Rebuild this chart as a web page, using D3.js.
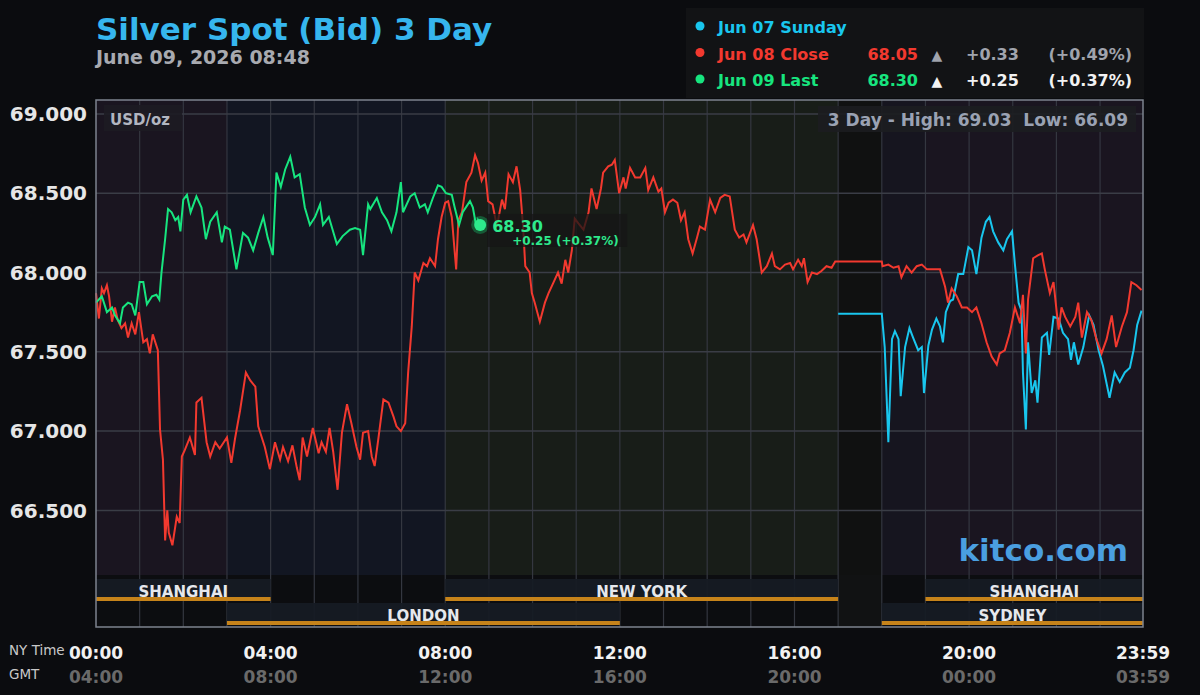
<!DOCTYPE html>
<html>
<head>
<meta charset="utf-8">
<script src="https://cdn.jsdelivr.net/npm/d3@7"></script>
<style>
  body { margin: 0; background: #0b0c0f; }
  svg { display: block; font-family: "DejaVu Sans", sans-serif; }
  text { white-space: pre; }
</style>
</head>
<body>
<div id="chart"></div>
<script>
// ---- data (minutes after NY midnight, USD/oz) ----
const yTicks = [66.5, 67, 67.5, 68, 68.5, 69];
const tickMinutes = [0, 240, 480, 720, 960, 1200, 1439];
const nyLabels = ["00:00", "04:00", "08:00", "12:00", "16:00", "20:00", "23:59"];
const gmtLabels = ["04:00", "08:00", "12:00", "16:00", "20:00", "00:00", "03:59"];

const sessionNames = ["SHANGHAI", "LONDON", "NEW YORK", "SYDNEY", "SHANGHAI"];
const sessionStart = [0, 180, 480, 1080, 1140];
const sessionEnd = [240, 720, 1020, 1439, 1439];
const sessionRow = [0, 1, 0, 1, 0];

const zoneStart = [0, 180, 480, 1020, 1080, 1140];
const zoneEnd = [180, 480, 1020, 1080, 1140, 1439];

const legendNames = ["Jun 07 Sunday", "Jun 08 Close", "Jun 09 Last"];
const legendPrice = ["", "68.05", "68.30"];
const legendChange = ["", "+0.33", "+0.25"];
const legendPct = ["", "(+0.49%)", "(+0.37%)"];

const sundaySeries = [[1020,67.74],[1080,67.74],[1084,67.53],[1089,66.93],[1094,67.58],[1098,67.63],[1103,67.58],[1106,67.22],[1112,67.53],[1118,67.65],[1123,67.59],[1130,67.51],[1135,67.53],[1138,67.24],[1144,67.54],[1149,67.64],[1155,67.71],[1160,67.66],[1164,67.56],[1168,67.75],[1174,67.82],[1178,67.83],[1185,67.99],[1192,67.99],[1199,68.16],[1204,68.14],[1210,67.99],[1217,68.22],[1223,68.32],[1228,68.35],[1233,68.26],[1240,68.19],[1247,68.14],[1252,68.21],[1259,68.26],[1263,68.05],[1268,67.81],[1272,67.76],[1274,67.37],[1278,67.01],[1281,67.56],[1286,67.24],[1291,67.32],[1294,67.18],[1300,67.59],[1307,67.62],[1310,67.48],[1316,67.72],[1323,67.71],[1329,67.62],[1336,67.58],[1340,67.45],[1344,67.56],[1350,67.42],[1357,67.53],[1365,67.73],[1371,67.67],[1378,67.51],[1384,67.41],[1393,67.21],[1400,67.37],[1407,67.31],[1414,67.37],[1421,67.40],[1426,67.51],[1431,67.67],[1437,67.76]];

const closeSeries = [[0,67.87],[4,67.71],[8,67.90],[11,67.87],[15,67.92],[18,67.85],[22,67.69],[26,67.78],[30,67.70],[35,67.65],[40,67.68],[44,67.59],[49,67.68],[54,67.61],[59,67.75],[65,67.56],[70,67.58],[74,67.49],[78,67.61],[85,67.51],[88,67.01],[92,66.82],[95,66.31],[98,66.50],[100,66.36],[105,66.28],[111,66.46],[115,66.42],[118,66.84],[122,66.88],[129,66.96],[136,66.85],[138,67.18],[145,67.21],[152,66.93],[157,66.84],[164,66.93],[170,66.89],[180,66.96],[186,66.80],[191,66.95],[198,67.13],[206,67.37],[212,67.32],[219,67.28],[223,67.03],[232,66.90],[239,66.76],[246,66.93],[253,66.82],[257,66.90],[264,66.81],[270,66.91],[276,66.77],[280,66.69],[284,66.96],[290,66.84],[298,67.02],[306,66.86],[310,66.93],[316,66.87],[321,67.02],[326,66.87],[332,66.63],[338,66.99],[345,67.17],[351,67.05],[358,66.90],[363,66.82],[367,66.99],[374,67.00],[379,66.84],[383,66.78],[388,66.95],[395,67.20],[402,67.18],[409,67.09],[413,67.03],[419,67.00],[425,67.05],[429,67.37],[434,67.66],[438,68.00],[443,67.95],[450,68.06],[455,68.04],[459,68.09],[466,68.04],[470,68.21],[475,68.35],[480,68.44],[484,68.45],[489,68.35],[495,68.02],[498,68.33],[503,68.38],[509,68.57],[516,68.63],[521,68.74],[525,68.69],[530,68.58],[535,68.63],[539,68.45],[545,68.43],[551,68.29],[558,68.46],[562,68.40],[567,68.62],[573,68.57],[578,68.67],[583,68.52],[587,68.29],[590,68.04],[596,68.00],[599,67.87],[603,67.81],[610,67.69],[617,67.81],[622,67.87],[629,67.94],[635,68.00],[640,67.93],[645,68.08],[649,68.00],[654,68.14],[658,68.34],[663,68.31],[670,68.27],[677,68.38],[681,68.53],[688,68.40],[694,68.53],[697,68.63],[704,68.67],[709,68.68],[713,68.71],[719,68.50],[725,68.60],[728,68.53],[734,68.66],[741,68.60],[748,68.60],[755,68.66],[759,68.52],[766,68.60],[773,68.51],[777,68.53],[782,68.38],[787,68.44],[793,68.46],[799,68.44],[804,68.33],[809,68.38],[814,68.21],[820,68.12],[826,68.22],[830,68.29],[837,68.27],[844,68.46],[851,68.38],[858,68.47],[864,68.49],[871,68.48],[878,68.27],[884,68.22],[890,68.24],[894,68.19],[903,68.30],[908,68.21],[915,68.00],[922,68.04],[929,68.12],[933,68.04],[940,68.02],[947,68.05],[954,68.06],[958,68.02],[965,68.08],[970,68.04],[973,68.09],[978,67.94],[984,68.00],[991,67.99],[997,68.01],[1004,68.04],[1011,68.03],[1016,68.07],[1080,68.07],[1081,68.04],[1089,68.05],[1096,68.03],[1103,68.04],[1107,67.97],[1114,68.04],[1121,68.00],[1128,68.04],[1135,68.05],[1142,68.02],[1149,68.02],[1160,68.02],[1167,67.91],[1171,67.81],[1176,67.90],[1183,67.85],[1190,67.78],[1197,67.78],[1204,67.75],[1210,67.78],[1217,67.68],[1224,67.56],[1231,67.47],[1238,67.42],[1242,67.49],[1249,67.51],[1256,67.62],[1263,67.78],[1270,67.68],[1274,67.86],[1278,67.49],[1281,67.83],[1288,68.09],[1295,68.11],[1300,68.12],[1304,68.02],[1311,67.87],[1316,67.94],[1323,67.64],[1327,67.78],[1332,67.72],[1339,67.66],[1346,67.72],[1350,67.81],[1355,67.59],[1362,67.75],[1368,67.70],[1375,67.58],[1382,67.49],[1389,67.58],[1396,67.73],[1402,67.53],[1410,67.66],[1417,67.75],[1423,67.94],[1430,67.92],[1437,67.89]];

const lastSeries = [[0,67.81],[8,67.85],[15,67.75],[22,67.78],[26,67.73],[33,67.68],[37,67.78],[44,67.81],[49,67.80],[54,67.73],[60,67.94],[65,67.94],[70,67.80],[77,67.85],[83,67.86],[87,67.83],[90,68.00],[95,68.21],[99,68.40],[104,68.38],[109,68.33],[113,68.35],[116,68.26],[120,68.46],[125,68.49],[130,68.38],[138,68.48],[145,68.41],[151,68.21],[157,68.32],[166,68.38],[173,68.19],[177,68.29],[184,68.27],[193,68.02],[202,68.25],[209,68.22],[216,68.14],[223,68.25],[230,68.35],[236,68.22],[243,68.11],[248,68.63],[254,68.54],[260,68.65],[267,68.73],[273,68.60],[280,68.62],[287,68.41],[294,68.30],[301,68.35],[308,68.43],[312,68.30],[320,68.35],[331,68.18],[339,68.23],[349,68.27],[356,68.28],[363,68.27],[367,68.11],[374,68.43],[377,68.40],[386,68.47],[393,68.38],[400,68.33],[406,68.26],[413,68.38],[419,68.57],[422,68.38],[432,68.48],[438,68.50],[445,68.41],[452,68.43],[456,68.38],[463,68.47],[470,68.55],[475,68.54],[481,68.50],[489,68.49],[493,68.41],[499,68.30],[504,68.38],[514,68.45],[518,68.41],[523,68.28],[525,68.33],[528,68.30]];

// ---- layout ----
const W = 1200, H = 695;
const plotTop = 100, dataBottom = 575, plotBottom = 627;
const plotLeft = 96, plotRight = 1143;

const svg = d3.select("#chart").append("svg")
  .attr("width", W).attr("height", H);

svg.append("rect").attr("width", W).attr("height", H).attr("fill", "#0b0c0f");

const x = d3.scaleLinear().domain([0, 1439]).range([plotLeft, plotRight]);
const y = d3.scaleLinear().domain([66.08, 69.088]).range([577, plotTop]);

// session background tints
const zoneFill = ["#1a1520", "#121622", "#181d18", "#101111", "#16151f", "#1a1520"];
svg.append("g").selectAll("rect")
  .data(zoneStart)
  .enter().append("rect")
  .attr("x", d => x(d))
  .attr("y", plotTop)
  .attr("width", (d, i) => x(zoneEnd[i]) - x(d))
  .attr("height", dataBottom - plotTop)
  .attr("fill", (d, i) => zoneFill[i]);

// session rows background
svg.append("rect")
  .attr("x", plotLeft).attr("y", dataBottom)
  .attr("width", plotRight - plotLeft).attr("height", plotBottom - dataBottom)
  .attr("fill", "#0c0d10");
svg.append("rect")
  .attr("x", x(1020)).attr("y", dataBottom)
  .attr("width", x(1080) - x(1020)).attr("height", plotBottom - dataBottom)
  .attr("fill", "#111213");

// grid
const grid = svg.append("g");
grid.selectAll("line.v")
  .data(d3.range(60, 1439, 60))
  .enter().append("line")
  .attr("class", "v")
  .attr("x1", d => x(d)).attr("x2", d => x(d))
  .attr("y1", plotTop).attr("y2", plotBottom)
  .attr("stroke", "#343740").attr("stroke-width", 1.2);
grid.selectAll("line.h")
  .data(yTicks)
  .enter().append("line")
  .attr("class", "h")
  .attr("x1", plotLeft).attr("x2", plotRight)
  .attr("y1", d => y(d)).attr("y2", d => y(d))
  .attr("stroke", "#3a3d46").attr("stroke-width", 1.5);

// session bands
const bands = svg.append("g");
sessionNames.forEach((name, i) => {
  const y0 = 579 + sessionRow[i] * 24;
  const x0 = x(sessionStart[i]), x1 = x(sessionEnd[i]);
  bands.append("rect").attr("x", x0).attr("y", y0)
    .attr("width", x1 - x0).attr("height", 22)
    .attr("fill", "#161b24").attr("opacity", 0.95);
  bands.append("rect").attr("x", x0).attr("y", y0 + 18)
    .attr("width", x1 - x0).attr("height", 4)
    .attr("fill", "#c6831a");
  bands.append("text")
    .attr("x", (x0 + x1) / 2).attr("y", y0 + 17.5)
    .attr("text-anchor", "middle")
    .attr("fill", "#e6e8ec").attr("font-size", 15).attr("font-weight", "bold")
    .text(name);
});

// lines
const line = d3.line().x(d => x(d[0])).y(d => y(d[1]));
svg.append("path").datum(sundaySeries).attr("d", line)
  .attr("fill", "none").attr("stroke", "#19c6ee").attr("stroke-width", 2);
svg.append("path").datum(closeSeries).attr("d", line)
  .attr("fill", "none").attr("stroke", "#f2392f").attr("stroke-width", 2);
svg.append("path").datum(lastSeries).attr("d", line)
  .attr("fill", "none").attr("stroke", "#17e57f").attr("stroke-width", 2);

// frame
svg.append("rect")
  .attr("x", plotLeft).attr("y", plotTop)
  .attr("width", plotRight - plotLeft).attr("height", plotBottom - plotTop)
  .attr("fill", "none").attr("stroke", "#7d838e").attr("stroke-width", 1.5);

// y axis labels
svg.append("g").selectAll("text")
  .data(yTicks)
  .enter().append("text")
  .attr("x", 87).attr("y", d => y(d))
  .attr("dy", "0.36em")
  .attr("text-anchor", "end")
  .attr("fill", "#e6e6e6").attr("font-size", 20).attr("font-weight", "bold")
  .text(d => d3.format(".3f")(d));

// x axis labels
svg.append("g").selectAll("text")
  .data(tickMinutes)
  .enter().append("text")
  .attr("x", d => x(d)).attr("y", 659)
  .attr("text-anchor", "middle")
  .attr("fill", "#f2f2f2").attr("font-size", 17).attr("font-weight", "bold")
  .text((d, i) => nyLabels[i]);
svg.append("g").selectAll("text")
  .data(tickMinutes)
  .enter().append("text")
  .attr("x", d => x(d)).attr("y", 683)
  .attr("text-anchor", "middle")
  .attr("fill", "#6a6a6a").attr("font-size", 17).attr("font-weight", "bold")
  .text((d, i) => gmtLabels[i]);
svg.append("text").attr("x", 9).attr("y", 655)
  .attr("fill", "#c8c8c8").attr("font-size", 13.5).text("NY Time");
svg.append("text").attr("x", 9).attr("y", 679)
  .attr("fill", "#c8c8c8").attr("font-size", 13.5).text("GMT");

// title
svg.append("text").attr("x", 96).attr("y", 40)
  .attr("fill", "#36b6ee").attr("font-size", 31).attr("font-weight", "bold")
  .text("Silver Spot (Bid) 3 Day");
svg.append("text").attr("x", 96).attr("y", 64)
  .attr("fill", "#a8aab0").attr("font-size", 19).attr("font-weight", "bold")
  .text("June 09, 2026 08:48");

// legend
const legendColor = ["#19c6ee", "#f2392f", "#17e57f"];
const legendText2 = ["#a0a4ad", "#a0a4ad", "#f2f2f2"];
svg.append("rect").attr("x", 686).attr("y", 8).attr("width", 458).attr("height", 90)
  .attr("fill", "#121315");
const lg = svg.append("g").attr("font-size", 16).attr("font-weight", "bold");
legendNames.forEach((name, i) => {
  const cy = 27 + i * 26.5;
  lg.append("circle").attr("cx", 700).attr("cy", cy - 1).attr("r", 4.5).attr("fill", legendColor[i]);
  lg.append("text").attr("x", 718).attr("y", cy + 6).attr("fill", legendColor[i]).text(name);
  if (legendPrice[i]) {
    lg.append("text").attr("x", 918).attr("y", cy + 6).attr("text-anchor", "end")
      .attr("fill", legendColor[i]).text(legendPrice[i]);
    lg.append("text").attr("x", 937).attr("y", cy + 6).attr("text-anchor", "middle")
      .attr("font-size", 14).attr("fill", legendText2[i]).text("\u25B2");
    lg.append("text").attr("x", 966).attr("y", cy + 6)
      .attr("fill", legendText2[i]).text(legendChange[i]);
    lg.append("text").attr("x", 1132).attr("y", cy + 6).attr("text-anchor", "end")
      .attr("fill", legendText2[i]).text(legendPct[i]);
  }
});

// unit and range labels
svg.append("rect").attr("x", 104).attr("y", 105).attr("width", 78).attr("height", 26)
  .attr("fill", "#1d1b22").attr("opacity", 0.9);
svg.append("text").attr("x", 110).attr("y", 125)
  .attr("fill", "#b2b6c0").attr("font-size", 15).attr("font-weight", "bold").text("USD/oz");
svg.append("rect").attr("x", 818).attr("y", 106).attr("width", 318).attr("height", 26)
  .attr("fill", "#1c1d20").attr("opacity", 0.9);
svg.append("text").attr("x", 1128).attr("y", 126).attr("text-anchor", "end")
  .attr("fill", "#9aa2b3").attr("font-size", 17).attr("font-weight", "bold")
  .text("3 Day - High: 69.03  Low: 66.09");

svg.append("text").attr("x", 1128).attr("y", 561).attr("text-anchor", "end")
  .attr("fill", "#4a9fe0").attr("font-size", 31).attr("font-weight", "bold")
  .text("kitco.com");

// last price marker
const lastPt = lastSeries[lastSeries.length - 1];
svg.append("circle").attr("cx", x(lastPt[0])).attr("cy", y(lastPt[1])).attr("r", 9)
  .attr("fill", "#17e57f").attr("opacity", 0.3);
svg.append("circle").attr("cx", x(lastPt[0])).attr("cy", y(lastPt[1])).attr("r", 6)
  .attr("fill", "#2ee98c");
svg.append("rect").attr("x", x(lastPt[0]) + 7).attr("y", y(lastPt[1]) - 11)
  .attr("width", 140).attr("height", 33)
  .attr("fill", "#161616").attr("opacity", 0.75);
svg.append("text").attr("x", x(lastPt[0]) + 12).attr("y", y(lastPt[1]) + 7)
  .attr("fill", "#2ee98c").attr("font-size", 16).attr("font-weight", "bold")
  .text(lastPt[1].toFixed(2));
svg.append("text").attr("x", x(lastPt[0]) + 32).attr("y", y(lastPt[1]) + 20)
  .attr("fill", "#2ee98c").attr("font-size", 12).attr("font-weight", "bold")
  .text("+0.25 (+0.37%)");
</script>
</body>
</html>
